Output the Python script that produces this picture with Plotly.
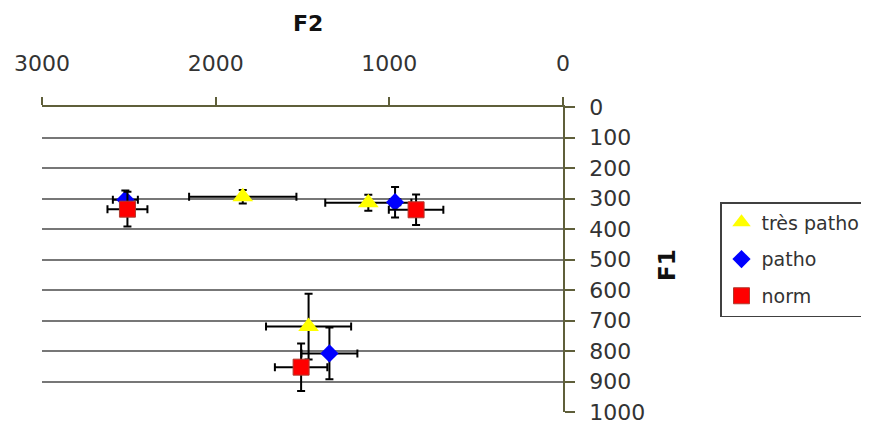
import plotly.graph_objects as go

# Data (F2 on x, F1 on y), with error half-widths
series_names = ["très patho", "patho", "norm"]

tres_F2 = [1844, 1121, 1465]
tres_F1 = [294, 314, 720]
tres_F2_err = [309, 248, 245]
tres_F1_err = [22, 26, 108]

patho_F2 = [2520, 967, 1345]
patho_F1 = [304, 312, 808]
patho_F2_err = [72, 30, 161]
patho_F1_err = [30, 50, 85]

norm_F2 = [2508, 846, 1508]
norm_F1 = [335, 337, 853]
norm_F2_err = [115, 157, 151]
norm_F1_err = [57, 50, 78]

x_ticks = [3000, 2000, 1000, 0]
y_ticks = list(range(0, 1001, 100))

FONT = "DejaVu Sans"
OLIVE = "#5f5f3a"
TXT = "#333333"

# page offset of the plot div (body margin)
OFF = 8
W, H = 869, 426
# target plot area in page pixels
PL, PR, PT, PB = 42, 563, 107, 412
l, t = PL - OFF, PT - OFF
r = W - (PR - OFF)
b = H - (PB - OFF)
pw, ph = W - l - r, H - t - b

def px_to_paper(px, py):
    return (px - OFF - l) / pw, (H - b - (py - OFF)) / ph

def err(vals):
    return dict(type="data", array=vals, visible=True, color="black", thickness=2, width=4)

fig = go.Figure()
fig.add_trace(go.Scatter(
    x=tres_F2, y=tres_F1, mode="markers", name=series_names[0], legendgroup="a",
    marker=dict(symbol="triangle-up", size=18, color="#FFFF00", line=dict(width=0)),
    error_x=err(tres_F2_err), error_y=err(tres_F1_err)))
fig.add_trace(go.Scatter(
    x=patho_F2, y=patho_F1, mode="markers", name=series_names[1], legendgroup="b",
    marker=dict(symbol="diamond", size=14, color="#0000FF", line=dict(width=0)),
    error_x=err(patho_F2_err), error_y=err(patho_F1_err)))
fig.add_trace(go.Scatter(
    x=norm_F2, y=norm_F1, mode="markers", name=series_names[2], legendgroup="c",
    marker=dict(symbol="square", size=16, color="#FF0000", line=dict(width=1, color="#B03A2E")),
    error_x=err(norm_F2_err), error_y=err(norm_F1_err)))

lx, ly = px_to_paper(720, 202)
ax, ay = px_to_paper(308, 23)
bx, by = px_to_paper(667, 265)

fig.update_layout(
    width=W, height=H,
    margin=dict(l=l, r=r, t=t, b=b, autoexpand=False),
    paper_bgcolor="white", plot_bgcolor="white",
    font=dict(family=FONT, size=22, color=TXT),
    showlegend=True,
    legend=dict(
        x=lx, y=ly, xanchor="left", yanchor="top",
        bordercolor="#404040", borderwidth=1.5, bgcolor="white",
        font=dict(family=FONT, size=19, color=TXT),
        traceorder="grouped", tracegroupgap=9, itemwidth=30,
    ),
    xaxis=dict(
        side="top", range=[3000, 0], tickvals=x_ticks,
        showgrid=False, zeroline=False,
        showline=True, linecolor=OLIVE, linewidth=1.5,
        ticks="outside", ticklen=8, tickcolor=OLIVE, tickwidth=1.5,
        ticklabelstandoff=17,
        tickfont=dict(family=FONT, size=22, color=TXT),
    ),
    yaxis=dict(
        side="right", range=[1000, 0], tickvals=y_ticks,
        showgrid=True, gridcolor="#777777", gridwidth=1.7, zeroline=False,
        showline=True, linecolor=OLIVE, linewidth=1.5,
        ticks="outside", ticklen=10, tickcolor=OLIVE, tickwidth=1.5,
        ticklabelstandoff=10,
        tickfont=dict(family=FONT, size=22, color=TXT),
    ),
    annotations=[
        dict(text="<b>F2</b>", x=ax, y=ay, xref="paper", yref="paper",
             xanchor="center", yanchor="middle",
             showarrow=False, font=dict(family=FONT, size=22, color="#111111")),
        dict(text="<b>F1</b>", x=bx, y=by, xref="paper", yref="paper",
             xanchor="center", yanchor="middle",
             showarrow=False, textangle=-90,
             font=dict(family=FONT, size=23, color="#111111")),
    ],
)

fig.write_html("out.html")
